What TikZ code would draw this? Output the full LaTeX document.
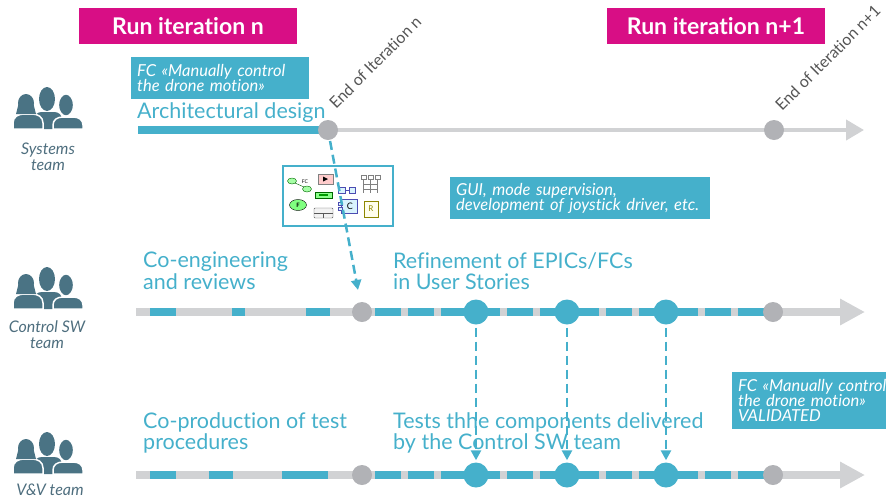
\documentclass[tikz,border=0pt]{standalone}
\usepackage{fontspec}
\setmainfont{Lato}[Ligatures=NoCommon]
\usetikzlibrary{arrows.meta}

\definecolor{runpink}{HTML}{D80E85}
\definecolor{flowblue}{HTML}{45B0CB}
\definecolor{linegray}{HTML}{D1D2D4}
\definecolor{dotgray}{HTML}{B1B2B6}
\definecolor{peopleblue}{HTML}{4A7384}
\definecolor{teamgray}{HTML}{4E6E7E}
\definecolor{labelgray}{HTML}{555555}

% three heads, anchored at the middle of their bottom edge
\newcommand{\teamicon}[1]{%
  \begin{scope}[shift={#1}]
    \fill[peopleblue] (-1,-30) ellipse [x radius=8, y radius=12];
    \fill[peopleblue] (-14,0) -- (-14,-9) .. controls (-14,-14) and (-11,-17) .. (-6,-17)
      -- (6,-17) .. controls (11,-17) and (14,-14) .. (14,-9) -- (14,0) -- cycle;
    \filldraw[peopleblue, draw=white, line width=1.5] (-35,0) -- (-35,-6) .. controls (-35,-12) and (-30,-15) .. (-24,-15)
      -- (-16,-15) .. controls (-10,-15) and (-5,-12) .. (-5,-6) -- (-5,0) -- cycle;
    \fill[peopleblue] (-29.5,-25) -- (-32,-15) -- (-12,-15) -- (-14.5,-25) -- cycle;
    \fill[peopleblue] (-22,-26) ellipse [x radius=8, y radius=9];
    \filldraw[peopleblue, draw=white, line width=1.5] (5,0) -- (5,-4) .. controls (5,-9) and (9,-12) .. (15,-12)
      -- (25,-12) .. controls (31,-12) and (35,-9) .. (35,-4) -- (35,0) -- cycle;
    \filldraw[peopleblue, draw=white, line width=1.2] (18,-24) ellipse [x radius=7.5, y radius=11];
  \end{scope}}

\begin{document}
\begin{tikzpicture}[
                  x = 1pt,
                  y = -1pt,
        title/.style = {fill=runpink, text=white, font=\fontsize{23}{23}\selectfont\bfseries, minimum width=218, minimum height=36, inner sep=0},
         note/.style = {fill=flowblue, text=white, font=\fontsize{16.5}{15}\selectfont\itshape, align=left, anchor=north west, inner xsep=6, inner ysep=0},
    stagetext/.style = {text=flowblue, font=\fontsize{21.5}{21.5}\selectfont, align=left, anchor=north west, inner sep=0},
     teamtext/.style = {text=teamgray, font=\fontsize{16}{16}\selectfont\itshape, align=center},
      endtext/.style = {text=labelgray, font=\fontsize{16}{16}\selectfont, rotate=45, anchor=base west, inner sep=0},
     progress/.style = {flowblue, line width=8},
     timeline/.style = {linegray, line width=8, -{Triangle[length=25pt,width=25pt]}},
    milestone/.style = {circle, fill=dotgray, minimum size=20, inner sep=0},
        story/.style = {circle, fill=flowblue, minimum size=25, inner sep=0},
      handoff/.style = {flowblue, line width=2.5, dash pattern=on 9pt off 5pt, -{Triangle[length=10pt,width=10pt]}}
                    ]
\useasboundingbox (0,0) rectangle (886,499);
\clip (0,0) rectangle (886,499);

\node[title] (runN) at (188,26) {Run iteration n};
\node[title] (runN1) at (716,26) {Run iteration n+1};

% teams
\teamicon{(48,129)}
\teamicon{(48,309)}
\teamicon{(48,474)}
\node[teamtext] (sysTeam) at (48,157) {Systems\\team};
\node[teamtext] (swTeam) at (47,335) {Control SW\\team};
\node[teamtext] (vvTeam) at (50,490) {V\&V team};

% systems team
\node[note, text width=166, minimum height=42] (fcNote) at (131,57) {FC «Manually control\\the drone motion»};
\node[stagetext] (archTxt) at (137,102) {Architectural design};
\coordinate (sysStart) at (138,130);
\coordinate (sysEnd) at (864,130);
\draw[linegray, line width=4, -{Triangle[length=18pt,width=20pt]}] (328,130) -- (sysEnd);
\draw[progress] (sysStart) -- (328,130);
\node[milestone] (sysEndN) at (328,130) {};
\node[milestone] (sysEndN1) at (774,130) {};
\node[endtext] (endN) at (336,110) {End of Iteration n};
\node[endtext] (endN1) at (782,112) {End of Iteration n+1};

% model shown to the control team
\node[draw=flowblue, line width=2.5, fill=white, minimum width=110, minimum height=60, inner sep=0] (model) at (338,196) {};
\draw[green!40!black, fill=green!35] (292,181) ellipse [x radius=4.5, y radius=3];
\draw[green!40!black] (295,183) -- (304,187);
\draw[green!40!black, fill=green!35] (307,189) ellipse [x radius=4.5, y radius=3];
\node[font=\fontsize{5}{5}\selectfont, inner sep=0] at (305,182) {FC};
\draw[gray, fill=red!20] (318,174) rectangle (333,184);
\fill (323,176.5) -- (328,179) -- (323,181.5) -- cycle;
\draw[green!40!black, fill=green!45] (315,192) rectangle (332,198);
\fill[green!60!black] (319,194) rectangle (328,196);
\draw[black, fill=green!50] (298,205) ellipse [x radius=8.5, y radius=5.5];
\node[font=\fontsize{6}{6}\selectfont\bfseries, inner sep=0] at (298,205) {F};
\draw[gray!70!black, fill=gray!10, rounded corners=1] (314,208) rectangle (333,218);
\draw[gray!70!black] (314,213) -- (333,213) (323.5,213) -- (323.5,218);
\draw[blue!40!gray, fill=cyan!15] (338,187) rectangle (345,193) (349,187) rectangle (355,193);
\draw[blue!40!gray] (345,190) -- (349,190);
\draw[blue!40!gray, fill=cyan!15] (341,199) rectangle (357,213);
\draw[blue!40!gray, fill=cyan!15] (338,202) rectangle (342,205) (338,207) rectangle (342,210);
\node[font=\fontsize{9}{9}\selectfont, inner sep=0] at (350,206) {C};
\foreach \tx in {361,368,375}
  \draw[gray] (\tx,175) rectangle ++(5,4);
\draw[gray] (363.5,179) -- (363.5,193) (370.5,179) -- (370.5,193) (377.5,179) -- (377.5,193)
  (363.5,184) -- (377.5,184) (363.5,189) -- (377.5,189);
\draw[olive, fill=yellow!8] (364,201) rectangle (378,217);
\node[text=olive, font=\fontsize{8}{8}\selectfont, inner sep=0] at (371,209) {R};

\node[note, text width=248, minimum height=42] (guiNote) at (450,177) {GUI, mode supervision,\\development of joystick driver, etc.};

% control SW team
\node[stagetext] (coengTxt) at (143,252) {Co-engineering\\and reviews};
\node[stagetext] (refineTxt) at (393,252) {Refinement of EPICs/FCs\\in User Stories};
\coordinate (swStart) at (136,312);
\coordinate (swEnd) at (865,312);
\draw[timeline] (swStart) -- (swEnd);
\draw[progress] (150,312) -- (176,312) (232,312) -- (245,312) (306,312) -- (330,312);
\draw[progress, dash pattern=on 26pt off 7pt] (375,312) -- (764,312);
\node[milestone] (swEndN) at (362,312) {};
\node[story] (swUs1) at (476,312) {};
\node[story] (swUs2) at (567,312) {};
\node[story] (swUs3) at (666,312) {};
\node[milestone] (swEndN1) at (773,312) {};

% V&V team
\node[stagetext] (coprodTxt) at (143,412) {Co-production of test\\procedures};
\node[stagetext] (testsTxt) at (393,412) {Tests thhe components delivered\\by the Control SW team};
\node[note, text width=200, minimum height=57] (validNote) at (732,372) {FC «Manually control\\the drone motion»\\VALIDATED};
\coordinate (vvStart) at (136,475);
\coordinate (vvEnd) at (865,475);
\draw[timeline] (vvStart) -- (vvEnd);
\draw[progress] (150,475) -- (176,475) (209,475) -- (233,475) (282,475) -- (328,475);
\draw[progress, dash pattern=on 26pt off 7pt] (375,475) -- (764,475);
\node[milestone] (vvEndN) at (362,475) {};
\node[story] (vvTest1) at (476,475) {};
\node[story] (vvTest2) at (567,475) {};
\node[story] (vvTest3) at (666,475) {};
\node[milestone] (vvEndN1) at (773,475) {};

% hand-offs
\coordinate (modelTip) at (358,290);
\draw[handoff, shorten <=1pt] (sysEndN) -- (modelTip);
\foreach \i in {1,2,3}
  \draw[handoff, shorten <=3pt, shorten >=2pt] (swUs\i) -- (vvTest\i);
\end{tikzpicture}
\end{document}
